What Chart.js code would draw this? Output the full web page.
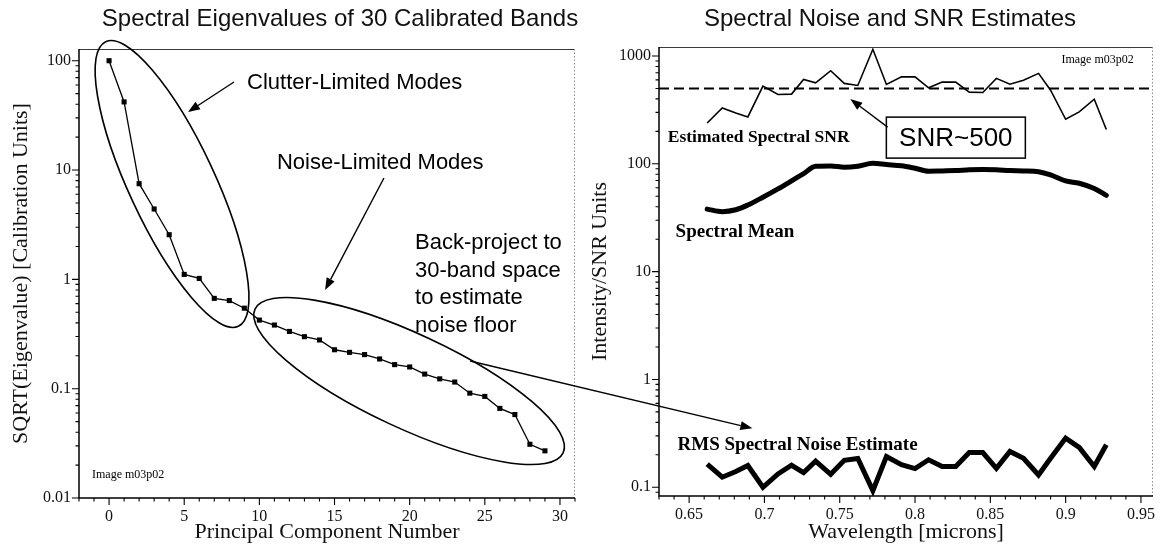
<!DOCTYPE html>
<html>
<head>
<meta charset="utf-8">
<script src="https://cdn.jsdelivr.net/npm/chart.js@4.4.1/dist/chart.umd.min.js"></script>
<style>
  html, body { margin: 0; padding: 0; background: #fff; }
  #wrap { position: relative; width: 1164px; height: 550px; overflow: hidden; }
  #wrap canvas { position: absolute; left: 0; top: 0; }
</style>
</head>
<body>
<div id="wrap">
  <canvas id="eigen" width="1164" height="550"></canvas>
  <canvas id="snr" width="1164" height="550"></canvas>
</div>
<script>
// ---- Eigenvalue spectrum of the 30 calibrated bands ----
const COMPONENTS = [0, 1, 2, 3, 4, 5, 6, 7, 8, 9, 10, 11, 12, 13, 14, 15, 16, 17, 18, 19, 20, 21, 22, 23, 24, 25, 26, 27, 28, 29];
const EIGEN_SQRT = [100, 42, 7.5, 4.4, 2.56, 1.11, 1.02, 0.67, 0.64, 0.545, 0.424, 0.382, 0.334, 0.299, 0.279,
                    0.227, 0.215, 0.205, 0.187, 0.166, 0.158, 0.136, 0.123, 0.115, 0.091, 0.085, 0.066, 0.058, 0.031, 0.027];

// ---- Per-band statistics ----
const WAVELENGTHS = [0.662, 0.672, 0.681, 0.689, 0.699, 0.709, 0.718, 0.726, 0.734, 0.744, 0.753, 0.762, 0.772, 0.781, 0.791,
                     0.800, 0.809, 0.818, 0.827, 0.836, 0.845, 0.854, 0.863, 0.872, 0.882, 0.890, 0.900, 0.909, 0.919, 0.927];
const SNR = [239, 330, 296, 272, 525, 439, 443, 607, 564, 730, 557, 533, 1154, 545, 641,
             641, 507, 573, 573, 462, 459, 620, 548, 597, 690, 482, 259, 303, 397, 208];
const MEAN = [38, 36, 37.5, 41.5, 49, 58.5, 69.5, 81, 95, 95.5, 93, 95, 101, 98.5, 96,
              91, 85.5, 86, 86.5, 88, 88.5, 88, 86.5, 86, 84.5, 79, 69.5, 66, 59, 51];
const NOISE = [0.164, 0.124, 0.140, 0.159, 0.100, 0.133, 0.160, 0.137, 0.175, 0.132, 0.178, 0.185, 0.093, 0.193, 0.162,
               0.149, 0.180, 0.156, 0.156, 0.210, 0.210, 0.150, 0.215, 0.186, 0.130, 0.186, 0.286, 0.234, 0.156, 0.248];
const SNR_LEVEL = 500;

// ---- Tick labels ----
const EIGEN_X_TICKS = [0, 5, 10, 15, 20, 25, 30];
const EIGEN_Y_TICKS = [0.01, 0.1, 1, 10, 100];
const WAVE_X_TICKS = [0.65, 0.7, 0.75, 0.8, 0.85, 0.9, 0.95];
const SNR_Y_TICKS = [0.1, 1, 10, 100, 1000];

const SERIF = '"Liberation Serif", "Times New Roman", serif';
const SANS = '"Liberation Sans", Arial, sans-serif';

function at(chart, xv, yv) {
  return [chart.scales.x.getPixelForValue(xv), chart.scales.y.getPixelForValue(yv)];
}

function arrow(ctx, x1, y1, x2, y2, len = 12, half = 4.5) {
  const ang = Math.atan2(y2 - y1, x2 - x1);
  const bx = x2 - len * Math.cos(ang), by = y2 - len * Math.sin(ang);
  ctx.beginPath(); ctx.moveTo(x1, y1); ctx.lineTo(bx, by); ctx.stroke();
  ctx.beginPath();
  ctx.moveTo(x2, y2);
  ctx.lineTo(bx + half * Math.sin(ang), by - half * Math.cos(ang));
  ctx.lineTo(bx - half * Math.sin(ang), by + half * Math.cos(ang));
  ctx.closePath(); ctx.fill();
}

// Plot frame, outward tick marks, chart title and axis titles
function drawFrame(chart, cfg) {
  const { ctx, chartArea: a } = chart;
  const xs = chart.scales.x, ys = chart.scales.y;
  ctx.save();
  ctx.strokeStyle = '#3a3a3a'; ctx.lineWidth = 1;
  ctx.beginPath(); ctx.moveTo(a.left, a.top + 0.5); ctx.lineTo(a.right, a.top + 0.5); ctx.stroke();
  ctx.strokeStyle = '#8c8c8c'; ctx.setLineDash([1.5, 2]);
  ctx.beginPath(); ctx.moveTo(a.right - 0.5, a.top); ctx.lineTo(a.right - 0.5, a.bottom); ctx.stroke();
  ctx.setLineDash([]);
  ctx.strokeStyle = '#000'; ctx.lineWidth = 1.5;
  ctx.beginPath(); ctx.moveTo(a.left, a.top); ctx.lineTo(a.left, a.bottom); ctx.lineTo(a.right, a.bottom); ctx.stroke();

  ctx.lineWidth = 1.1;
  ctx.beginPath();
  for (let i = Math.ceil(xs.min / cfg.xMinor); i * cfg.xMinor <= xs.max + 1e-9; i++) {
    const p = xs.getPixelForValue(i * cfg.xMinor);
    ctx.moveTo(p, a.bottom); ctx.lineTo(p, a.bottom + 3.5);
  }
  cfg.xMajor.forEach(v => {
    const p = xs.getPixelForValue(v);
    ctx.moveTo(p, a.bottom); ctx.lineTo(p, a.bottom + 7);
  });
  const d0 = Math.floor(Math.log10(ys.min)), d1 = Math.ceil(Math.log10(ys.max));
  for (let d = d0; d <= d1; d++) {
    for (let k = 1; k <= 9; k++) {
      const v = k * Math.pow(10, d);
      if (v < ys.min * 0.999 || v > ys.max) continue;
      const p = ys.getPixelForValue(v);
      ctx.moveTo(a.left, p); ctx.lineTo(a.left - (k === 1 ? 7 : 3.5), p);
    }
  }
  ctx.stroke();

  ctx.fillStyle = '#111';
  ctx.textBaseline = 'middle'; ctx.textAlign = 'center';
  ctx.font = '24px ' + SANS;
  ctx.fillText(cfg.title, cfg.titleX, 19);
  ctx.font = '22px ' + SERIF;
  ctx.fillText(cfg.xTitle, (a.left + a.right) / 2, 532);
  ctx.save();
  ctx.translate(cfg.yTitleX, (a.top + a.bottom) / 2);
  ctx.rotate(-Math.PI / 2);
  ctx.fillText(cfg.yTitle, 0, 0);
  ctx.restore();
  ctx.restore();
}

function baseScales(xMin, xMax, yMin, yMax, xTicks, yTicks, yAxisWidth, xAxisHeight, xFmt) {
  const tickFont = { family: SERIF, size: 16 };
  return {
    x: {
      type: 'linear', min: xMin, max: xMax,
      grid: { display: false, drawTicks: false }, border: { display: false },
      afterBuildTicks: s => { s.ticks = xTicks.map(v => ({ value: v })); },
      afterFit: s => { s.height = xAxisHeight; },
      ticks: { autoSkip: false, maxRotation: 0, padding: 9, color: '#111', font: tickFont, callback: xFmt }
    },
    y: {
      type: 'logarithmic', min: yMin, max: yMax,
      grid: { display: false, drawTicks: false }, border: { display: false },
      afterBuildTicks: s => { s.ticks = yTicks.map(v => ({ value: v })); },
      afterFit: s => { s.width = yAxisWidth; },
      ticks: { autoSkip: false, padding: 8, color: '#111', font: tickFont, callback: v => String(v) }
    }
  };
}

// ---------------- Left panel: eigenvalue spectrum ----------------
const eigenNotes = {
  id: 'eigenNotes',
  afterDraw(chart) {
    const ctx = chart.ctx;
    drawFrame(chart, {
      xMajor: EIGEN_X_TICKS, xMinor: 1,
      title: 'Spectral Eigenvalues of 30 Calibrated Bands', titleX: 340,
      xTitle: 'Principal Component Number',
      yTitle: 'SQRT(Eigenvalue) [Calibration Units]', yTitleX: 21
    });
    ctx.save();
    ctx.strokeStyle = '#000'; ctx.fillStyle = '#000'; ctx.lineWidth = 1.6;
    // group outlines
    let c = at(chart, 4.19, 7.45);
    ctx.beginPath(); ctx.ellipse(c[0], c[1], 157, 43, 65 * Math.PI / 180, 0, 2 * Math.PI); ctx.stroke();
    c = at(chart, 19.96, 0.1175);
    ctx.beginPath(); ctx.ellipse(c[0], c[1], 170, 47, 25 * Math.PI / 180, 0, 2 * Math.PI); ctx.stroke();
    // pointers
    ctx.lineWidth = 1.4;
    let p = at(chart, 8.31, 63.9), q = at(chart, 5.25, 33.9);
    arrow(ctx, p[0], p[1], q[0], q[1]);
    p = at(chart, 18.29, 8.45); q = at(chart, 14.37, 0.80);
    arrow(ctx, p[0], p[1], q[0], q[1]);
    // labels
    ctx.textBaseline = 'middle'; ctx.textAlign = 'left';
    ctx.font = '22px ' + SANS;
    p = at(chart, 9.18, 62.5); ctx.fillText('Clutter-Limited Modes', p[0], p[1]);
    p = at(chart, 11.17, 11.6); ctx.fillText('Noise-Limited Modes', p[0], p[1]);
    p = at(chart, 20.36, 2.15);
    ['Back-project to', '30-band space', 'to estimate', 'noise floor'].forEach((t, i) => ctx.fillText(t, p[0], p[1] + i * 27.7));
    ctx.font = '12px ' + SERIF;
    p = at(chart, -1.135, 0.0162); ctx.fillText('Image m03p02', p[0], p[1]);
    ctx.restore();
  }
};

const eigenChart = new Chart(document.getElementById('eigen'), {
  type: 'line',
  data: {
    datasets: [{
      data: COMPONENTS.map((k, i) => ({ x: k, y: EIGEN_SQRT[i] })),
      borderColor: '#000', borderWidth: 1.3, backgroundColor: '#000',
      pointStyle: 'rect', pointRadius: 3.6, pointBorderWidth: 0, tension: 0
    }]
  },
  options: {
    responsive: false, animation: false, devicePixelRatio: 1,
    layout: { padding: { left: 0, right: 589, top: 49, bottom: 0 } },
    plugins: { legend: { display: false }, tooltip: { enabled: false }, title: { display: false } },
    scales: baseScales(-2, 31, 0.01, 128, EIGEN_X_TICKS, EIGEN_Y_TICKS, 79, 52, v => String(v))
  },
  plugins: [eigenNotes]
});

// ---------------- Right panel: noise, mean and SNR ----------------
const snrNotes = {
  id: 'snrNotes',
  afterDraw(chart) {
    const ctx = chart.ctx;
    drawFrame(chart, {
      xMajor: WAVE_X_TICKS, xMinor: 0.01,
      title: 'Spectral Noise and SNR Estimates', titleX: 890,
      xTitle: 'Wavelength [microns]',
      yTitle: 'Intensity/SNR Units', yTitleX: 600
    });
    ctx.save();
    ctx.strokeStyle = '#000'; ctx.fillStyle = '#000';
    ctx.textBaseline = 'middle'; ctx.textAlign = 'left';
    ctx.font = 'bold 17.5px ' + SERIF;
    let p = at(chart, 0.6358, 177); ctx.fillText('Estimated Spectral SNR', p[0], p[1]);
    ctx.font = 'bold 19px ' + SERIF;
    p = at(chart, 0.641, 23.3); ctx.fillText('Spectral Mean', p[0], p[1]);
    p = at(chart, 0.6423, 0.246); ctx.fillText('RMS Spectral Noise Estimate', p[0], p[1]);
    ctx.font = '12px ' + SERIF;
    p = at(chart, 0.8972, 918); ctx.fillText('Image m03p02', p[0], p[1]);

    // SNR call-out box
    const c = at(chart, 0.8271, 175);
    ctx.fillStyle = '#fff'; ctx.lineWidth = 1.5;
    ctx.fillRect(c[0] - 69.5, c[1] - 20.5, 139, 41);
    ctx.strokeRect(c[0] - 69.5, c[1] - 20.5, 139, 41);
    ctx.fillStyle = '#000'; ctx.textAlign = 'center';
    ctx.font = '26px ' + SANS;
    ctx.fillText('SNR~' + SNR_LEVEL, c[0], c[1] + 1);
    ctx.lineWidth = 1.4;
    p = at(chart, 0.7818, 219); let q = at(chart, 0.757, 399);
    arrow(ctx, p[0], p[1], q[0], q[1]);

    // back-projection pointer running from the noise-limited group to the noise curve
    p = at(eigenChart, 24.02, 0.179); q = at(chart, 0.692, 0.352);
    arrow(ctx, p[0], p[1], q[0], q[1]);
    ctx.restore();
  }
};

new Chart(document.getElementById('snr'), {
  type: 'line',
  data: {
    datasets: [
      {
        data: [{ x: 0.63, y: SNR_LEVEL }, { x: 0.958, y: SNR_LEVEL }],
        borderColor: '#000', borderWidth: 2, borderDash: [10, 5], pointRadius: 0
      },
      {
        data: WAVELENGTHS.map((w, i) => ({ x: w, y: SNR[i] })),
        borderColor: '#000', borderWidth: 1.6, pointRadius: 0, tension: 0
      },
      {
        data: WAVELENGTHS.map((w, i) => ({ x: w, y: MEAN[i] })),
        borderColor: '#000', borderWidth: 5, pointRadius: 0, tension: 0.4,
        cubicInterpolationMode: 'monotone', borderJoinStyle: 'round', borderCapStyle: 'round'
      },
      {
        data: WAVELENGTHS.map((w, i) => ({ x: w, y: NOISE[i] })),
        borderColor: '#000', borderWidth: 5, pointRadius: 0, tension: 0,
        borderJoinStyle: 'miter', borderCapStyle: 'butt'
      }
    ]
  },
  options: {
    responsive: false, animation: false, devicePixelRatio: 1,
    layout: { padding: { left: 580, right: 2, top: 47, bottom: 0 } },
    plugins: { legend: { display: false }, tooltip: { enabled: false }, title: { display: false } },
    scales: baseScales(0.63, 0.958, 0.083, 1212, WAVE_X_TICKS, SNR_Y_TICKS, 79, 54, v => String(+v.toFixed(2)))
  },
  plugins: [snrNotes]
});
</script>
</body>
</html>
